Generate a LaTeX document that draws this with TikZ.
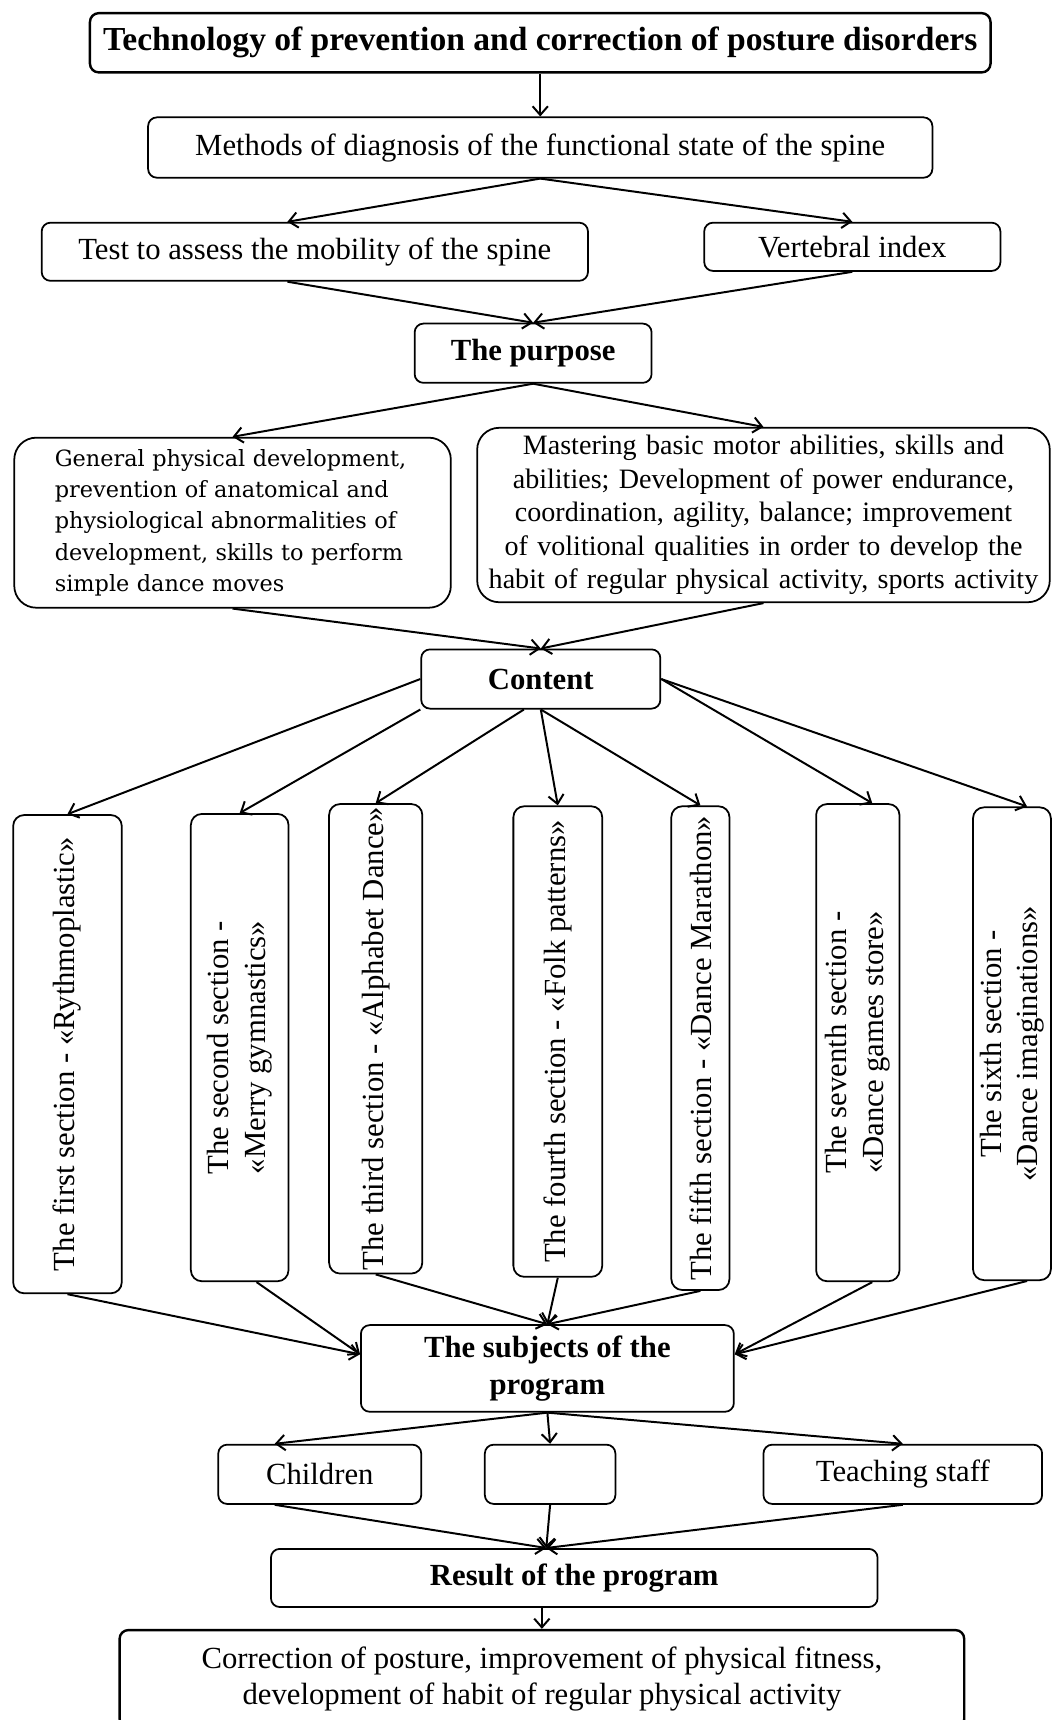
\documentclass[tikz,border=0pt]{standalone}
\usepackage{fontspec}
\setmainfont{Liberation Serif}
\newfontfamily\genfont{DejaVu Serif}
\usepackage{graphicx}
\usetikzlibrary{arrows.meta,calc}

\begin{document}
\begin{tikzpicture}[x=0.5pt, y=-0.5pt,
    every node/.style={font=\fontsize{14}{16.5}\selectfont, inner sep=0pt},
    box/.style={rectangle, draw, rounded corners=4pt, line width=0.8pt, align=center},
    secbox/.style={rectangle, draw, rounded corners=5pt, line width=0.8pt},
    arr/.style={-{Straight Barb[length=4pt,width=7pt]}, line width=0.9pt}]
    \useasboundingbox (0,0) rectangle (959,1568);

    % Technology and diagnosis
    \node[box, line width=1.1pt, minimum width=410.5pt, minimum height=27pt, font=\fontsize{15.3}{18}\selectfont\bfseries] (tech) at (492.5,39) {Technology of prevention and correction of posture disorders};
    \node[box, minimum width=357.5pt, minimum height=27.5pt] (diag) at (492.5,134.5) {Methods of diagnosis of the functional state of the spine};
    \node[box, minimum width=249pt, minimum height=26.5pt] (test) at (287,229.5) {Test to assess the mobility of the spine};
    \node[box, minimum width=135pt, minimum height=22pt] (vert) at (777,225) {Vertebral index};

    \draw[arr] (tech.south) -- (diag.north);
    \draw[arr] (diag.south) -- ($(test.north west)!.45!(test.north east)$);
    \draw[arr] (diag.south) -- (vert.north);

    % Purpose
    \node[box, minimum width=108pt, minimum height=27pt, font=\fontsize{14}{16.5}\selectfont\bfseries] (purp) at (486,322) {The purpose};
    \draw[arr] ($(test.south west)!.45!(test.south east)$) -- (purp.north);
    \draw[arr] (vert.south) -- (purp.north);

    \node[box, rounded corners=10pt, minimum width=199pt, minimum height=77.5pt, text width=162pt, align=left, font=\genfont\fontsize{10.2}{14.25}\selectfont] (gen) at (212,476.5) {General physical development,\\ prevention of anatomical and\\ physiological abnormalities of\\ development, skills to perform\\ simple dance moves};
    \node[box, rounded corners=10pt, minimum width=261pt, minimum height=79.5pt, text width=255pt, font=\fontsize{12.8}{15.3}\selectfont] (mast) at (696,469.5) {Mastering basic motor abilities, skills and\\ abilities; Development of power endurance,\\ coordination, agility, balance; improvement\\ of volitional qualities in order to develop the\\ habit of regular physical activity, sports activity};
    \draw[arr] (purp.south) -- (gen.north);
    \draw[arr] (purp.south) -- (mast.north);

    % Content
    \node[box, minimum width=109pt, minimum height=27pt, font=\fontsize{14}{16.5}\selectfont\bfseries] (cont) at (493,619) {Content};
    \draw[arr] (gen.south) -- (cont.north);
    \draw[arr] (mast.south) -- (cont.north);

    % Sections
    \node[secbox, minimum width=49.5pt, minimum height=218pt] (s1) at (61.5,961) {\rotatebox{90}{The first section - «Rythmoplastic»}};
    \node[secbox, minimum width=44.5pt, minimum height=213pt] (s2) at (218.5,955) {\rotatebox{90}{\begin{tabular}{@{}c@{}}The second section -\\«Merry gymnastics»\end{tabular}}};
    \node[secbox, minimum width=42.5pt, minimum height=214pt] (s3) at (342.5,947) {\rotatebox{90}{The third section - «Alphabet Dance»}};
    \node[secbox, minimum width=40.5pt, minimum height=214.5pt] (s4) at (508.5,949.5) {\rotatebox{90}{The fourth section - «Folk patterns»}};
    \node[secbox, minimum width=26.5pt, minimum height=220.5pt] (s5) at (638.5,955.5) {\rotatebox{90}{The fifth section - «Dance Marathon»}};
    \node[secbox, minimum width=38pt, minimum height=217.5pt] (s7) at (782,950.5) {\rotatebox{90}{\begin{tabular}{@{}c@{}}The seventh section -\\«Dance games store»\end{tabular}}};
    \node[secbox, minimum width=35.5pt, minimum height=215.5pt] (s6) at (922.5,951.5) {\rotatebox{90}{\begin{tabular}{@{}c@{}}The sixth section -\\«Dance imaginations»\end{tabular}}};

    \draw[arr] (cont.west) -- (s1.north);
    \draw[arr] (cont.south west) -- (s2.north);
    \draw[arr] ($(cont.south west)!.43!(cont.south east)$) -- (s3.north);
    \draw[arr] (cont.south) -- (s4.north);
    \draw[arr] (cont.south) -- (s5.north);
    \draw[arr] (cont.east) -- ($(s7.north west)!.67!(s7.north east)$);
    \draw[arr] (cont.east) -- ($(s6.north west)!.69!(s6.north east)$);

    % Subjects
    \node[box, minimum width=170pt, minimum height=39.5pt, font=\fontsize{14}{17}\selectfont\bfseries] (subj) at (499,1247.5) {The subjects of the\\ program};
    \coordinate (subjw) at ($(subj.north west)!.34!(subj.south west)$);
    \coordinate (subje) at ($(subj.north east)!.34!(subj.south east)$);
    \draw[arr] (s1.south) -- (subjw);
    \draw[arr] ($(s2.south west)!.67!(s2.south east)$) -- (subjw);
    \draw[arr] (s3.south) -- (subj.north);
    \draw[arr] (s4.south) -- (subj.north);
    \draw[arr] (s5.south) -- (subj.north);
    \draw[arr] ($(s7.south west)!.67!(s7.south east)$) -- (subje);
    \draw[arr] ($(s6.south west)!.69!(s6.south east)$) -- (subje);

    \node[box, minimum width=92.5pt, minimum height=27pt] (child) at (291.5,1344) {Children};
    \node[box, minimum width=59.5pt, minimum height=27pt] (blank) at (501.5,1344) {};
    \node[box, minimum width=127pt, minimum height=27pt] (staff) at (823,1344) {Teaching staff};
    \draw[arr] (subj.south) -- ($(child.north west)!.28!(child.north east)$);
    \draw[arr] (subj.south) -- (blank.north);
    \draw[arr] (subj.south) -- (staff.north);

    % Result
    \node[box, minimum width=276.5pt, minimum height=26.5pt, font=\fontsize{14}{16.5}\selectfont\bfseries] (res) at (523.5,1438.5) {Result of the program};
    \coordinate (resin) at ($(res.north west)!.454!(res.north east)$);
    \draw[arr] ($(child.south west)!.28!(child.south east)$) -- (resin);
    \draw[arr] (blank.south) -- (resin);
    \draw[arr] (staff.south) -- (resin);

    \node[box, line width=1.1pt, minimum width=385pt, minimum height=44.5pt] (corr) at (494,1530.5) {Correction of posture, improvement of physical fitness,\\ development of habit of regular physical activity};
    \draw[arr] (corr.north |- res.south) -- (corr.north);
\end{tikzpicture}
\end{document}
